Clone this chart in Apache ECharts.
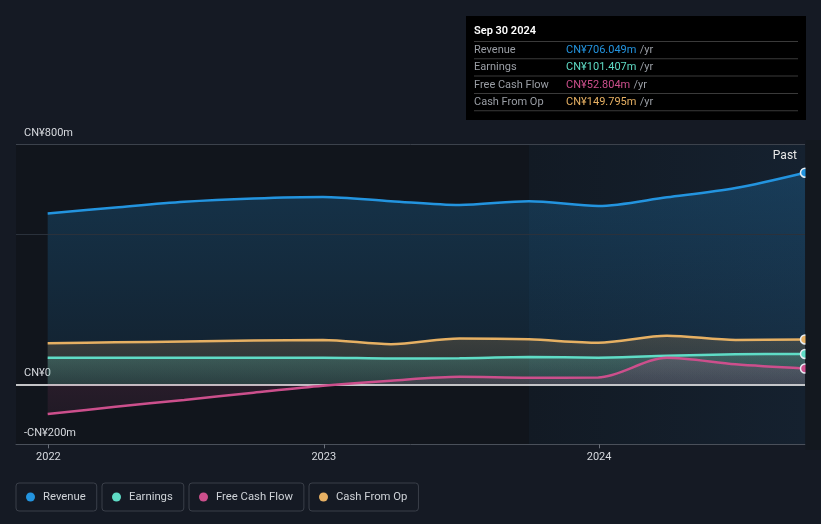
<!DOCTYPE html>
<html>
<head>
<meta charset="utf-8">
<script src="https://cdn.jsdelivr.net/npm/echarts@6/dist/echarts.min.js"></script>
<style>
html,body{margin:0;padding:0;background:#151a24;}
#c{width:821px;height:524px;}
</style>
</head>
<body>
<div id="c"></div>
<script>
// ---- data (CN¥ millions, trailing twelve months) ----
const dates = ['2021-12-31','2022-03-31','2022-06-30','2022-09-30','2022-12-31','2023-03-31','2023-06-30','2023-09-30','2023-12-31','2024-03-31','2024-06-30','2024-09-30'];
const revenue  = [570, 590, 609, 620, 625, 611, 598, 611, 595, 624, 655, 706.049];
const earnings = [89, 89, 89, 89, 89, 86, 87, 91, 89, 95, 100, 101.407];
const freeCashFlow = [-99, -75, -52, -28, -5, 12, 25, 22, 23, 89, 67, 52.804];
const cashFromOp = [137, 140, 143, 146, 148, 134, 153, 150, 139, 162, 148, 149.795];
const seriesNames = ['Revenue', 'Earnings', 'Free Cash Flow', 'Cash From Op'];
const yTickLabels = {'-200': '-CN¥200m', '0': 'CN¥0', '800': 'CN¥800m'};
const xTickLabels = ['2022-01-01', '2023-01-01', '2024-01-01'];
const gridValues = [800, 500];
const pastStart = '2023-09-30';
const axisMin = '2021-11-19';
const axisMax = '2024-09-30';
const tooltipDate = 'Sep 30 2024';

const colors = {
  'Revenue': '#2394df',
  'Earnings': '#5fdcc6',
  'Free Cash Flow': '#cc4f8c',
  'Cash From Op': '#e6b063'
};
const FONT = 'Roboto, "Open Sans", sans-serif';
const ts = d => Date.UTC(+d.slice(0, 4), +d.slice(5, 7) - 1, +d.slice(8, 10));

function rgba(hex, a) {
  const n = parseInt(hex.slice(1), 16);
  return `rgba(${(n>>16)&255},${(n>>8)&255},${n&255},${a})`;
}
function grad(hex, a1, a2) {
  return new echarts.graphic.LinearGradient(0, 0, 0, 1, [
    {offset: 0, color: rgba(hex, a1)}, {offset: 1, color: rgba(hex, a2)}
  ]);
}
function mkData(vals, color) {
  return vals.map((v, i) => {
    if (i === vals.length - 1) {
      return {value: [ts(dates[i]), v], symbol: 'circle', symbolSize: 9,
        itemStyle: {color: color, borderColor: '#e8eef4', borderWidth: 1.5}};
    }
    return {value: [ts(dates[i]), v]};
  });
}
function mkSeries(name, vals, a1, a2, z, extra) {
  const c = colors[name];
  return Object.assign({
    name: name, type: 'line', data: mkData(vals, c), smooth: 0.3,
    symbol: 'none', z: z,
    lineStyle: {color: c, width: 2.5},
    itemStyle: {color: c},
    areaStyle: {color: grad(c, a1, a2), origin: 0},
    emphasis: {disabled: true}
  }, extra || {});
}

const chart = echarts.init(document.getElementById('c'), null, {renderer: 'canvas'});

const legendLefts = [16, 102, 189, 309];
const legends = seriesNames.map((n, i) => ({
  data: [n], left: legendLefts[i], top: 483, icon: 'circle',
  itemWidth: 9, itemHeight: 9, itemGap: 0,
  padding: [7, 11, 7, 10],
  borderColor: '#3a3f49', borderWidth: 1, borderRadius: 3,
  selectedMode: false,
  textStyle: {color: '#cfd3d8', fontSize: 11.3, fontFamily: FONT, padding: [0, 0, 0, 3], lineHeight: 14}
}));

const tipVals = [revenue, earnings, freeCashFlow, cashFromOp].map(a => a[a.length - 1]);
const tipChildren = [
  {type: 'rect', shape: {x: 0, y: 0, width: 340, height: 104}, style: {fill: '#000000'}},
  {type: 'text', x: 8, y: 15.5, style: {text: tooltipDate, fill: '#ffffff', font: '600 11px ' + FONT, textVerticalAlign: 'middle'}}
];
seriesNames.forEach((n, i) => {
  const yLine = 25 + i * 17.3;
  tipChildren.push({type: 'rect', shape: {x: 8, y: yLine, width: 324, height: 1}, style: {fill: '#3a3a3a'}});
  tipChildren.push({type: 'text', x: 8, y: yLine + 9.3, style: {text: n, fill: '#9a9ea5', font: '11px ' + FONT, textVerticalAlign: 'middle'}});
  tipChildren.push({type: 'text', x: 100, y: yLine + 9.3, style: {
    text: '{v|CN¥' + tipVals[i].toFixed(3) + 'm} {u|/yr}',
    rich: {v: {fill: colors[n], font: '11px ' + FONT}, u: {fill: '#9a9ea5', font: '11px ' + FONT}},
    textVerticalAlign: 'middle'}});
});
tipChildren.push({type: 'rect', shape: {x: 8, y: 25 + 4 * 17.3, width: 324, height: 1}, style: {fill: '#3a3a3a'}});

const xTicks = xTickLabels.map(ts);
const option = {
  backgroundColor: '#151a24',
  animation: false,
  textStyle: {fontFamily: FONT},
  grid: {left: 16, right: 16, top: 144.5, bottom: 79.7, containLabel: false},
  legend: legends,
  xAxis: {
    type: 'value', min: ts(axisMin), max: ts(axisMax), scale: true,
    axisLine: {onZero: false, lineStyle: {color: '#4a505a', width: 1}},
    axisTick: {show: true, length: 4, lineStyle: {color: '#6a707a'}, customValues: xTicks},
    axisLabel: {color: '#d6d9de', fontSize: 11, fontFamily: FONT, margin: 7,
      customValues: xTicks,
      formatter: v => String(new Date(v).getUTCFullYear())},
    splitLine: {show: false}
  },
  yAxis: {
    type: 'value', min: -200, max: 800, interval: 100,
    axisLine: {show: false}, axisTick: {show: false}, splitLine: {show: false},
    axisLabel: {inside: true, margin: 8, color: '#d6d9de', fontSize: 11, fontFamily: FONT,
      verticalAlign: 'bottom', padding: [0, 0, 6, 0],
      formatter: v => yTickLabels[String(v)] || ''}
  },
  series: [
    mkSeries('Revenue', revenue, 0.34, 0.13, 2, {
      markArea: {silent: true, z: 0, data: [
        [{xAxis: ts(axisMin), itemStyle: {color: '#11151c'}}, {xAxis: ts(pastStart)}],
        [{xAxis: ts(pastStart), itemStyle: {color: new echarts.graphic.LinearGradient(0, 0, 1, 0, [
          {offset: 0, color: '#121a24'}, {offset: 1, color: '#15212f'}])}}, {xAxis: ts(axisMax)}]
      ]},
      markLine: {silent: true, symbol: 'none', label: {show: false},
        lineStyle: {color: '#353b45', width: 1, type: 'solid'},
        data: gridValues.map(v => ({yAxis: v, lineStyle: {color: v === 800 ? '#3c424c' : '#2a313b', width: 1, type: 'solid'}}))}
    }),
    mkSeries('Cash From Op', cashFromOp, 0.28, 0.12, 3),
    mkSeries('Earnings', earnings, 0.32, 0.15, 4),
    mkSeries('Free Cash Flow', freeCashFlow, 0.22, 0.12, 5, {
      markLine: {silent: true, symbol: 'none', label: {show: false},
        lineStyle: {color: '#ffffff', width: 1.5, type: 'solid'},
        data: [{yAxis: 0}]}
    })
  ],
  graphic: [
    {type: 'rect', z: 100, shape: {x: 805.5, y: 140, width: 16, height: 310}, style: {fill: '#13181f'}},
    {type: 'text', z: 100, x: 797, y: 156, style: {text: 'Past', fill: '#e8e8e8', font: '12px ' + FONT, textAlign: 'right', textVerticalAlign: 'middle'}},
    {type: 'group', z: 100, left: 466, top: 16, children: tipChildren}
  ]
};
chart.setOption(option);
</script>
</body>
</html>
